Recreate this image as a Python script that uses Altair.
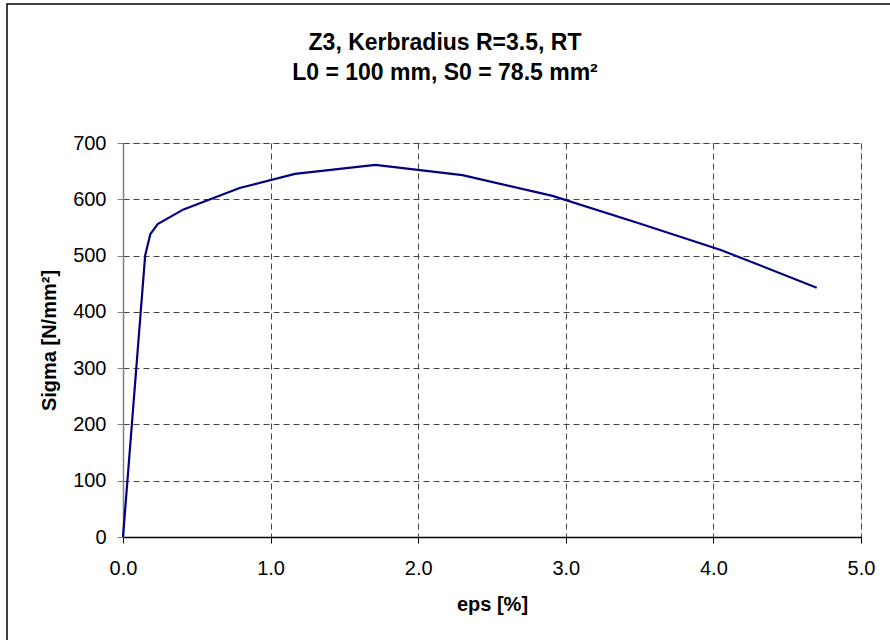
import altair as alt
import pandas as pd

eps = [0.0, 0.15, 0.185, 0.235, 0.41, 0.79, 1.165, 1.71, 2.30, 2.91, 3.50, 4.05, 4.70]
sigma = [0, 500, 538, 556, 582, 620, 645, 661, 643, 606, 557, 510, 443]
x_ticks = [0.0, 1.0, 2.0, 3.0, 4.0, 5.0]
y_ticks = [0, 100, 200, 300, 400, 500, 600, 700]
title_lines = ["Z3, Kerbradius R=3.5, RT", "L0 = 100 mm, S0 = 78.5 mm²"]

df = pd.DataFrame({"eps": eps, "sigma": sigma})
FONT = "Liberation Sans"

line = alt.Chart(df).mark_line(color="#000080", strokeWidth=2.2).encode(
    x=alt.X("eps:Q",
            scale=alt.Scale(domain=[0, 5], nice=False, zero=False),
            axis=alt.Axis(values=x_ticks, format=".1f", title="eps [%]",
                          labelFontSize=20, labelFont=FONT, labelColor="black",
                          labelFlush=False, labelOverlap=False,
                          titleFontSize=20, titleFont=FONT, titleFontWeight="bold",
                          titleColor="black", titlePadding=16, labelPadding=15,
                          tickSize=6, tickColor="black", domainColor="black",
                          domainWidth=1.5,
                          grid=True, gridDash=[6, 4], gridColor="#444444",
                          gridWidth=1)),
    y=alt.Y("sigma:Q",
            scale=alt.Scale(domain=[0, 700], nice=False),
            axis=alt.Axis(values=y_ticks, title="Sigma [N/mm²]",
                          labelFontSize=20, labelFont=FONT, labelColor="black",
                          labelFlush=False, labelOverlap=False,
                          titleFontSize=20, titleFont=FONT, titleFontWeight="bold",
                          titleColor="black", titlePadding=13, labelPadding=11,
                          tickSize=6, tickColor="#808080", domainColor="#808080",
                          domainWidth=1.5,
                          grid=True, gridDash=[6, 4], gridColor="#444444",
                          gridWidth=1)),
)

border = alt.Chart(pd.DataFrame({"b": [0]})).mark_rect(
    filled=False, stroke="black", strokeWidth=1.5
).encode(
    x=alt.value(-116), x2=alt.value(780),
    y=alt.value(-139), y2=alt.value(510),
)

chart = alt.layer(border, line).properties(
    width=738,
    height=394,
    title=alt.Title(title_lines, anchor="middle", fontSize=23, font=FONT,
                    fontWeight="bold", color="black", lineHeight=30,
                    dx=-47, dy=82, offset=0),
    autosize=alt.AutoSizeParams(type="none"),
    padding={"left": 123, "top": 143, "right": 29, "bottom": 103},
).configure_view(stroke=None).configure(background="white")

chart.save("out.html", embed_options={"renderer": "svg", "actions": False})
